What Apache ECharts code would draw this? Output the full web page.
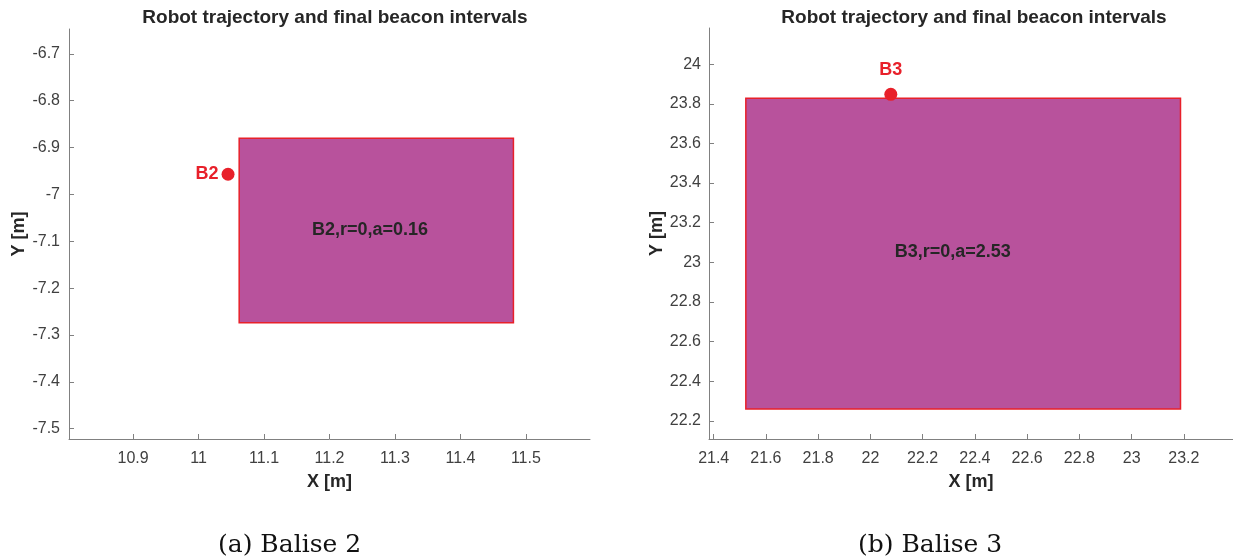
<!DOCTYPE html>
<html>
<head>
<meta charset="utf-8">
<script src="https://cdn.jsdelivr.net/npm/echarts@6/dist/echarts.min.js"></script>
<style>
html,body{margin:0;padding:0;background:#fff;}
#c{width:1233px;height:560px;}
</style>
</head>
<body>
<div id="c"></div>
<script>
// ---- Data (panel a: Balise 2) ----
const xTicksA = [10.9, 11, 11.1, 11.2, 11.3, 11.4, 11.5];
const yTicksA = [-7.5, -7.4, -7.3, -7.2, -7.1, -7, -6.9, -6.8, -6.7];
const xRangeA = [10.802, 11.598];
const yRangeA = [-7.522, -6.647];
const rectA = [11.062, -7.274, 11.481, -6.880]; // xmin, ymin, xmax, ymax
const beaconA = [11.045, -6.957];
const beaconNameA = 'B2';
const infoTextA = 'B2,r=0,a=0.16';
const infoPosA = [11.262, -7.075];

// ---- Data (panel b: Balise 3) ----
const xTicksB = [21.4, 21.6, 21.8, 22, 22.2, 22.4, 22.6, 22.8, 23, 23.2];
const yTicksB = [22.2, 22.4, 22.6, 22.8, 23, 23.2, 23.4, 23.6, 23.8, 24];
const xRangeB = [21.382, 23.388];
const yRangeB = [22.108, 24.183];
const rectB = [21.523, 22.259, 23.187, 23.828];
const beaconB = [22.078, 23.848];
const beaconNameB = 'B3';
const infoTextB = 'B3,r=0,a=2.53';
const infoPosB = [22.315, 23.052];

const titleText = 'Robot trajectory and final beacon intervals';
const captions = ['(a) Balise 2', '(b) Balise 3'];

const FONT = '"Liberation Sans", Arial, sans-serif';
const AX = '#808080';
const LBL = '#404040';
const RED = '#E8202A';
const FILL = '#B8529C';

function xAxisDef(idx, range, ticks) {
  return {
    type: 'value', gridIndex: idx, min: range[0], max: range[1],
    name: 'X [m]', nameLocation: 'middle', nameGap: 34,
    nameTextStyle: {fontFamily: FONT, fontWeight: 'bold', fontSize: 18, color: '#262626'},
    axisLine: {show: true, onZero: false, lineStyle: {color: AX, width: 1}},
    axisTick: {show: true, inside: true, length: 5, lineStyle: {color: AX}, customValues: ticks},
    axisLabel: {fontFamily: FONT, fontSize: 16, color: LBL, margin: 12, customValues: ticks},
    splitLine: {show: false}
  };
}
function yAxisDef(idx, range, ticks, gap, margin) {
  return {
    type: 'value', gridIndex: idx, min: range[0], max: range[1],
    name: 'Y [m]', nameLocation: 'middle', nameGap: gap, nameRotate: 90,
    nameTextStyle: {fontFamily: FONT, fontWeight: 'bold', fontSize: 18, color: '#262626'},
    axisLine: {show: true, onZero: false, lineStyle: {color: AX, width: 1}},
    axisTick: {show: true, inside: true, length: 5, lineStyle: {color: AX}, customValues: ticks},
    axisLabel: {fontFamily: FONT, fontSize: 16, color: LBL, margin: margin, customValues: ticks},
    splitLine: {show: false}
  };
}

function rectSeries(idx, r) {
  return {
    type: 'custom', xAxisIndex: idx, yAxisIndex: idx, silent: true, z: 2,
    data: [r],
    renderItem: function (params, api) {
      const p1 = api.coord([api.value(0), api.value(3)]);
      const p2 = api.coord([api.value(2), api.value(1)]);
      return {
        type: 'rect',
        shape: {x: p1[0], y: p1[1], width: p2[0] - p1[0], height: p2[1] - p1[1]},
        style: {fill: FILL, stroke: RED, lineWidth: 1.5}
      };
    }
  };
}
function beaconSeries(idx, pt, name, pos) {
  return {
    type: 'scatter', xAxisIndex: idx, yAxisIndex: idx, z: 5, silent: true,
    symbol: 'circle', symbolSize: 13,
    itemStyle: {color: RED, opacity: 1},
    label: {show: true, position: pos, distance: pos === 'top' ? 9 : 3, formatter: name,
      fontFamily: FONT, fontWeight: 'bold', fontSize: 18, color: RED},
    data: [pt]
  };
}
function textSeries(idx, pt, txt) {
  return {
    type: 'scatter', xAxisIndex: idx, yAxisIndex: idx, z: 6, silent: true,
    symbolSize: 0, itemStyle: {opacity: 1},
    label: {show: true, position: 'inside', formatter: txt,
      fontFamily: FONT, fontWeight: 'bold', fontSize: 18, color: '#262626'},
    data: [pt]
  };
}

const chart = echarts.init(document.getElementById('c'), null, {renderer: 'canvas'});
chart.setOption({
  animation: false,
  backgroundColor: '#ffffff',
  title: [
    {text: titleText, left: 330, textAlign: 'center', top: 3,
      textStyle: {fontFamily: FONT, fontWeight: 'bold', fontSize: 19, color: '#262626'}},
    {text: titleText, left: 969, textAlign: 'center', top: 3,
      textStyle: {fontFamily: FONT, fontWeight: 'bold', fontSize: 19, color: '#262626'}}
  ],
  grid: [
    {left: 69, top: 29, width: 521, height: 410},
    {left: 709, top: 28, width: 524, height: 411}
  ],
  xAxis: [xAxisDef(0, xRangeA, xTicksA), xAxisDef(1, xRangeB, xTicksB)],
  yAxis: [yAxisDef(0, yRangeA, yTicksA, 35, 9), yAxisDef(1, yRangeB, yTicksB, 41, 8)],
  series: [
    rectSeries(0, rectA),
    beaconSeries(0, beaconA, beaconNameA, 'left'),
    textSeries(0, infoPosA, infoTextA),
    rectSeries(1, rectB),
    beaconSeries(1, beaconB, beaconNameB, 'top'),
    textSeries(1, infoPosB, infoTextB)
  ],
  graphic: [
    {type: 'text', left: 218, top: 533, style: {text: captions[0], font: '25px "DejaVu Serif", serif', fill: '#111'}},
    {type: 'text', left: 858, top: 533, style: {text: captions[1], font: '25px "DejaVu Serif", serif', fill: '#111'}}
  ]
});
</script>
</body>
</html>
